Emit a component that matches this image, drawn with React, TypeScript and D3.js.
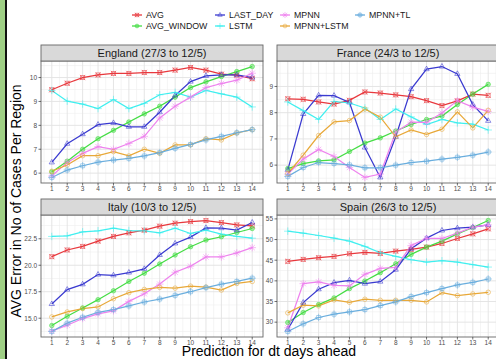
import React from "react";
import * as d3 from "d3";

const days = [1, 2, 3, 4, 5, 6, 7, 8, 9, 10, 11, 12, 13, 14];
const seriesNames = ["AVG", "AVG_WINDOW", "LAST_DAY", "LSTM", "MPNN", "MPNN+LSTM", "MPNN+TL"];
const seriesColors = ["#E8383D", "#44DD44", "#3A3AD0", "#3FEFEF", "#EE82EE", "#E8A838", "#6AAEDE"];
const regionTitles = ["England (27/3 to 12/5)", "France (24/3 to 12/5)", "Italy (10/3 to 12/5)", "Spain (26/3 to 12/5)"];

// order of rows follows seriesNames
const englandValues = [
  [9.49, 9.76, 10.0, 10.11, 10.17, 10.17, 10.21, 10.21, 10.31, 10.42, 10.31, 10.14, 10.1, 9.95],
  [6.05, 6.5, 7.0, 7.44, 7.79, 8.14, 8.48, 8.8, 9.18, 9.58, 9.82, 10.04, 10.25, 10.46],
  [6.45, 7.23, 7.63, 8.03, 8.1, 7.94, 7.94, 8.55, 9.25, 9.83, 10.07, 10.11, 10.11, 10.0],
  [9.46, 9.01, 8.89, 8.7, 9.08, 8.7, 8.92, 9.28, 9.38, 9.18, 9.46, 9.32, 9.18, 8.77],
  [5.88, 6.45, 6.83, 7.11, 7.0, 7.24, 7.54, 8.31, 8.8, 9.18, 9.58, 9.75, 9.89, 10.18],
  [6.08, 6.34, 6.73, 6.73, 6.9, 6.72, 7.0, 6.83, 7.18, 7.18, 7.44, 7.39, 7.68, 7.82],
  [5.82, 6.13, 6.31, 6.46, 6.55, 6.62, 6.72, 6.86, 7.04, 7.2, 7.39, 7.54, 7.69, 7.82],
];
const franceValues = [
  [8.53, 8.51, 8.41, 8.33, 8.47, 8.79, 8.75, 8.68, 8.61, 8.46, 8.27, 8.45, 8.71, 8.66],
  [5.87, 6.06, 6.16, 6.2, 6.52, 6.84, 7.04, 7.3, 7.55, 7.74, 7.87, 8.31, 8.71, 9.08],
  [5.82, 7.95, 8.66, 8.65, 8.39, 6.67, 5.53, 7.08, 8.9, 9.66, 9.76, 9.48, 8.31, 7.69],
  [8.41, 8.08, 7.74, 8.43, 8.37, 8.18, 7.74, 8.14, 7.84, 7.55, 7.74, 7.61, 7.56, 7.34],
  [5.66, 6.23, 6.6, 6.33, 5.91, 5.53, 5.66, 7.26, 7.64, 7.63, 7.99, 8.46, 8.21, 8.05],
  [5.68, 6.38, 7.13, 7.65, 7.7, 8.14, 7.83, 7.08, 7.34, 7.17, 7.37, 8.03, 7.42, 8.09],
  [5.57, 5.91, 6.1, 6.06, 6.01, 5.9, 5.9, 6.0, 6.1, 6.15, 6.23, 6.3, 6.38, 6.5],
];
const italyValues = [
  [20.81, 21.44, 21.78, 22.28, 22.72, 23.06, 23.31, 23.69, 23.97, 24.12, 24.22, 24.03, 23.81, 23.72],
  [14.31, 15.19, 15.97, 16.75, 17.59, 18.47, 19.25, 20.12, 20.97, 21.75, 22.38, 22.69, 23.09, 23.47],
  [16.34, 17.7, 18.2, 19.12, 19.05, 19.31, 19.66, 20.97, 22.06, 22.66, 23.53, 23.5, 23.31, 24.03],
  [22.72, 22.78, 23.16, 23.25, 23.5, 23.28, 23.25, 23.06, 23.5, 23.0, 23.31, 22.94, 22.72, 22.56],
  [13.78, 14.34, 14.97, 15.41, 15.69, 16.59, 17.31, 18.22, 19.34, 19.91, 20.78, 20.78, 21.16, 21.66],
  [15.12, 15.59, 15.91, 16.06, 16.84, 17.41, 17.72, 17.91, 17.84, 18.03, 17.94, 17.66, 18.28, 18.47],
  [13.75, 14.53, 15.09, 15.56, 15.81, 16.16, 16.53, 16.81, 17.16, 17.5, 17.88, 18.22, 18.47, 18.78],
];
const spainValues = [
  [44.71, 45.19, 45.6, 45.92, 46.56, 46.88, 46.64, 47.2, 47.6, 48.17, 49.05, 50.26, 51.38, 52.59],
  [29.92, 32.33, 34.26, 35.87, 38.12, 39.97, 41.98, 44.15, 46.4, 48.17, 49.61, 51.38, 52.91, 54.6],
  [28.23, 34.74, 37.96, 39.57, 40.13, 39.32, 39.81, 42.7, 47.77, 50.34, 52.19, 52.75, 52.99, 53.55],
  [52.03, 51.54, 50.98, 50.34, 49.61, 48.33, 46.8, 45.92, 45.11, 44.55, 44.87, 44.55, 43.91, 43.34],
  [28.63, 39.32, 39.73, 38.92, 38.76, 41.58, 43.02, 43.26, 48.57, 50.26, 50.26, 51.54, 52.99, 53.55],
  [32.25, 34.1, 33.94, 35.39, 34.82, 35.55, 35.3, 35.3, 35.3, 34.9, 37.15, 36.43, 36.83, 37.23],
  [27.75, 29.6, 31.13, 31.93, 32.49, 33.05, 34.02, 34.9, 36.19, 37.15, 38.12, 39.0, 39.65, 40.45],
];
const englandTicks = [6, 7, 8, 9, 10];
const franceTicks = [6, 7, 8, 9];
const italyTicks = [15, 17.5, 20, 22.5];
const spainTicks = [30, 35, 40, 45, 50, 55];
const italyTickLabels = ["15.0", "17.5", "20.0", "22.5"];

const FONT = "'Liberation Sans', Arial, Helvetica, sans-serif";

const symbolSets: any[][] = [
  [d3.symbolSquare2, d3.symbolX],
  [d3.symbolCircle],
  [d3.symbolTriangle2],
  [d3.symbolPlus],
  [d3.symbolX, d3.symbolPlus],
  [d3.symbolCircle],
  [d3.symbolSquare2, d3.symbolPlus],
];

function Marker({ i, x, y, size = 20 }: { i: number; x: number; y: number; size?: number }) {
  const c = seriesColors[i];
  return (
    <g transform={`translate(${x},${y})`}>
      {symbolSets[i].map((t, k) => (
        <path
          key={k}
          d={d3.symbol(t, t === d3.symbolCircle ? size * 0.8 : size)() || ""}
          fill={i === 1 ? c : "none"}
          fillOpacity={i === 1 ? 0.45 : 1}
          stroke={c}
          strokeWidth={0.8}
          strokeOpacity={0.7}
        />
      ))}
    </g>
  );
}

function Panel({
  x0, top, title, values, ticks, tickLabels,
}: { x0: number; top: number; title: string; values: number[][]; ticks: number[]; tickLabels?: string[] }) {
  const W = 222;
  const stripH = 16;
  const H = 122;
  const pTop = top + stripH;
  const pBot = pTop + H;
  const xs = d3.scaleLinear().domain([0.3, 14.7]).range([x0, x0 + W]);
  const all = values.flat();
  const [mn, mx] = d3.extent(all) as [number, number];
  const pad = (mx - mn) * 0.05;
  const ys = d3.scaleLinear().domain([mn - pad, mx + pad]).range([pBot, pTop]);
  const step = ticks[1] - ticks[0];
  const yMinor: number[] = [];
  for (let v = ticks[0] - step / 2; v <= mx + pad; v += step) if (v >= mn - pad) yMinor.push(v);
  const xMinor = d3.range(0.5, 15, 1);
  const line = d3.line<number>().x((_, k) => xs(days[k])).y((d) => ys(d));
  const clipId = "clip" + x0 + "_" + top;
  return (
    <g>
      <defs>
        <clipPath id={clipId}>
          <rect x={x0} y={pTop} width={W} height={H} />
        </clipPath>
      </defs>
      <rect x={x0} y={pTop} width={W} height={H} fill="#fff" />
      <g clipPath={`url(#${clipId})`}>
        {xMinor.map((v) => (
          <line key={"xm" + v} x1={xs(v)} x2={xs(v)} y1={pTop} y2={pBot} stroke="#EFEFEF" strokeWidth={0.6} />
        ))}
        {yMinor.map((v) => (
          <line key={"ym" + v} x1={x0} x2={x0 + W} y1={ys(v)} y2={ys(v)} stroke="#EFEFEF" strokeWidth={0.6} />
        ))}
        {days.map((v) => (
          <line key={"xM" + v} x1={xs(v)} x2={xs(v)} y1={pTop} y2={pBot} stroke="#E2E2E2" strokeWidth={0.9} />
        ))}
        {ticks.map((v) => (
          <line key={"yM" + v} x1={x0} x2={x0 + W} y1={ys(v)} y2={ys(v)} stroke="#E2E2E2" strokeWidth={0.9} />
        ))}
        {values.map((s, i) => (
          <path key={"l" + i} d={line(s) || ""} fill="none" stroke={seriesColors[i]} strokeWidth={1.25} />
        ))}
        {values.map((s, i) =>
          s.map((v, k) => <Marker key={"m" + i + "_" + k} i={i} x={xs(days[k])} y={ys(v)} />)
        )}
      </g>
      <rect x={x0} y={pTop} width={W} height={H} fill="none" stroke="#666" strokeWidth={0.9} />
      <rect x={x0} y={top} width={W} height={stripH} fill="#D9D9D9" stroke="#666" strokeWidth={0.9} />
      <text x={x0 + W / 2} y={top + stripH / 2 + 4} textAnchor="middle" fontSize={11} fontFamily={FONT} fill="#1a1a1a">
        {title}
      </text>
      {days.map((v) => (
        <g key={"xt" + v}>
          <line x1={xs(v)} x2={xs(v)} y1={pBot} y2={pBot + 2.5} stroke="#333" strokeWidth={0.7} />
          <text x={xs(v)} y={pBot + 8} textAnchor="middle" fontSize={6.5} fontFamily={FONT} fill="#4D4D4D">
            {v}
          </text>
        </g>
      ))}
      {ticks.map((v, k) => (
        <g key={"yt" + v}>
          <line x1={x0 - 2.5} x2={x0} y1={ys(v)} y2={ys(v)} stroke="#333" strokeWidth={0.7} />
          <text x={x0 - 4} y={ys(v) + 2.3} textAnchor="end" fontSize={6.5} fontFamily={FONT} fill="#4D4D4D">
            {tickLabels ? tickLabels[k] : String(v)}
          </text>
        </g>
      ))}
    </g>
  );
}

const legendPos = [
  [132, 15], [132, 26], [215, 15], [215, 26], [280, 15], [280, 26], [355, 15],
];

export default function App() {
  return (
    <svg
      width={496}
      height={359}
      style={{ position: "fixed", left: 0, top: 0, background: "#fff" }}
      fontFamily={FONT}
    >
      <rect x={0} y={0} width={496} height={359} fill="#fff" />
      <rect x={0} y={0} width={5} height={359} fill="#9FCF85" />
      <rect x={5} y={0} width={2} height={359} fill="#111" />
      {seriesNames.map((n, i) => {
        const [lx, ly] = legendPos[i];
        return (
          <g key={n}>
            <line x1={lx} x2={lx + 10} y1={ly} y2={ly} stroke={seriesColors[i]} strokeWidth={1.3} />
            <Marker i={i} x={lx + 5} y={ly} size={14} />
            <text x={lx + 14} y={ly + 3.2} fontSize={8.8} fontFamily={FONT} fill="#1a1a1a">
              {n}
            </text>
          </g>
        );
      })}
      <Panel x0={41} top={45} title={regionTitles[0]} values={englandValues} ticks={englandTicks} />
      <Panel x0={277} top={45} title={regionTitles[1]} values={franceValues} ticks={franceTicks} />
      <Panel x0={41} top={199} title={regionTitles[2]} values={italyValues} ticks={italyTicks} tickLabels={italyTickLabels} />
      <Panel x0={277} top={199} title={regionTitles[3]} values={spainValues} ticks={spainTicks} />
      <text
        transform="translate(21,201) rotate(-90)"
        textAnchor="middle"
        fontSize={14}
        fontFamily={FONT}
        fill="#000"
      >
        AVG Error in No of Cases Per Region
      </text>
      <text x={269} y={355.5} textAnchor="middle" fontSize={14} fontFamily={FONT} fill="#000">
        Prediction for dt days ahead
      </text>
    </svg>
  );
}
